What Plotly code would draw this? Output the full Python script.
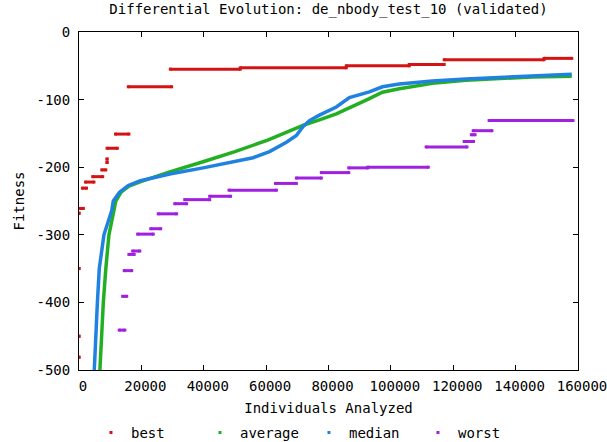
import plotly.graph_objects as go

# ---------------- data ----------------
x_tick_vals = [0, 20000, 40000, 60000, 80000, 100000, 120000, 140000, 160000]
x_tick_text = ["0", "20000", "40000", "60000", "80000", "100000", "120000", "140000", "160000"]
y_tick_vals = [0, -100, -200, -300, -400, -500]
y_tick_text = ["0", "-100", "-200", "-300", "-400", "-500"]

# best: step runs (start individual, end individual, fitness)
best_x_start = [0, 0, 0, 0, 300, 1100, 2100, 4400, 7300, 9000, 9000, 9000, 11700, 15800, 29300, 51700, 85700, 105900, 117100, 149100]
best_x_end   = [0, 0, 0, 0, 1400, 2400, 4800, 7600, 8600, 9000, 9000, 12300, 16000, 29700, 51700, 85700, 105900, 117100, 149100, 158000]
best_y       = [-481, -450, -350, -268, -261, -231, -222, -214, -204, -193, -188, -172, -151, -81, -55, -53, -50, -48, -41, -39]

# worst: step runs
worst_x_start = [12900, 14000, 14500, 16000, 17200, 18800, 23000, 25400, 30700, 33900, 41900, 48100, 63000, 69700, 77700, 86500, 92600, 111300, 123500, 125800, 126400, 131500]
worst_x_end   = [14700, 15300, 16900, 17700, 19500, 23800, 26200, 31300, 34500, 41900, 48600, 63300, 69700, 77700, 86500, 92600, 112000, 124400, 126500, 127000, 132400, 158400]
worst_y       = [-441, -391, -353, -329, -324, -299, -291, -269, -254, -248, -243, -234, -224, -216, -208, -201, -200, -170, -162, -152, -146, -131]

# average
avg_x = [6700, 7200, 7800, 8600, 9600, 11200, 11800, 13500, 16000, 20000, 29100, 39800, 50000, 60500, 71800, 77100, 82500, 93100, 97300, 102700, 113300, 124000, 134700, 145300, 158000]
avg_y = [-500, -450, -400, -350, -300, -264, -250, -237, -228, -221, -207, -192, -177, -160, -138, -130, -121, -98.5, -89, -84, -76, -71.5, -68.5, -66.5, -65.5]

# median
med_x = [4900, 5300, 5900, 6500, 8000, 10500, 11000, 13000, 15800, 19700, 29100, 39800, 45100, 50500, 55800, 61100, 66500, 69700, 71800, 73900, 77100, 82500, 86700, 93100, 97300, 102700, 113300, 124000, 134700, 145300, 158000]
med_y = [-500, -450, -400, -350, -300, -264, -250, -237, -227, -220, -210, -201, -196, -191, -186, -177, -163, -153, -140, -131, -123, -111, -97, -88.7, -81, -77, -72.5, -69.5, -67.5, -65, -62.5]

series_names = ["best", "average", "median", "worst"]
colors = {"best": "#d41414", "average": "#22b022", "median": "#2082e0", "worst": "#a020e0"}


def runs(xs, xe, ys):
    px, py = [], []
    for a, b, v in zip(xs, xe, ys):
        px += [a, b, None]
        py += [v, v, None]
    return px, py


fig = go.Figure()

bx, by = runs(best_x_start, best_x_end, best_y)
wx, wy = runs(worst_x_start, worst_x_end, worst_y)

fig.add_trace(go.Scatter(x=bx, y=by, mode="lines+markers", showlegend=False,
                         line=dict(color=colors["best"], width=3),
                         marker=dict(color=colors["best"], size=3, symbol="square")))
fig.add_trace(go.Scatter(x=avg_x, y=avg_y, mode="lines", showlegend=False,
                         line=dict(color=colors["average"], width=3.5)))
fig.add_trace(go.Scatter(x=med_x, y=med_y, mode="lines", showlegend=False,
                         line=dict(color=colors["median"], width=3.5)))
fig.add_trace(go.Scatter(x=wx, y=wy, mode="lines+markers", showlegend=False,
                         line=dict(color=colors["worst"], width=3),
                         marker=dict(color=colors["worst"], size=3, symbol="square")))

# legend-only entries (small dots like the reference key)
for name in series_names:
    fig.add_trace(go.Scatter(x=[None], y=[None], mode="markers", name=name,
                             marker=dict(color=colors[name], size=3, symbol="square")))

font_family = "DejaVu Sans Mono"

fig.update_layout(
    width=607, height=442,
    margin=dict(l=79, r=29, t=32, b=72, autoexpand=False),
    paper_bgcolor="white", plot_bgcolor="white",
    font=dict(family=font_family, size=14, color="black"),
    hovermode=False,
    title=dict(text="Differential Evolution: de_nbody_test_10 (validated)",
               x=0.5, xref="paper", xanchor="center",
               y=1 - 4 / 442, yref="container", yanchor="top", pad=dict(t=0, b=0),
               font=dict(family=font_family, size=14, color="black")),
    legend=dict(orientation="h", x=0.024, xanchor="left", y=-0.186, yanchor="middle",
                entrywidth=64, entrywidthmode="pixels",
                font=dict(family=font_family, size=14, color="black"),
                bgcolor="rgba(0,0,0,0)", itemsizing="trace"),
    showlegend=True,
)

fig.update_xaxes(range=[0, 160000], tickvals=x_tick_vals, ticktext=x_tick_text,
                 automargin=False, ticklabeloverflow="allow",
                 showgrid=False, zeroline=False, showline=True, linecolor="black", linewidth=1,
                 mirror="ticks", ticks="inside", ticklen=5, tickcolor="black",
                 ticklabelshift=4, ticklabelstandoff=3,
                 title=dict(text="Individuals Analyzed", standoff=10,
                            font=dict(family=font_family, size=14, color="black")))
fig.update_yaxes(range=[-500, 0], tickvals=y_tick_vals, ticktext=y_tick_text,
                 automargin=False, ticklabelstandoff=5,
                 showgrid=False, zeroline=False, showline=True, linecolor="black", linewidth=1,
                 mirror="ticks", ticks="inside", ticklen=5, tickcolor="black",
                 title=dict(text="Fitness", standoff=8,
                            font=dict(family=font_family, size=14, color="black")))

fig.write_html("out.html", config={"displayModeBar": False},
               post_script="document.body.style.margin='0';")
